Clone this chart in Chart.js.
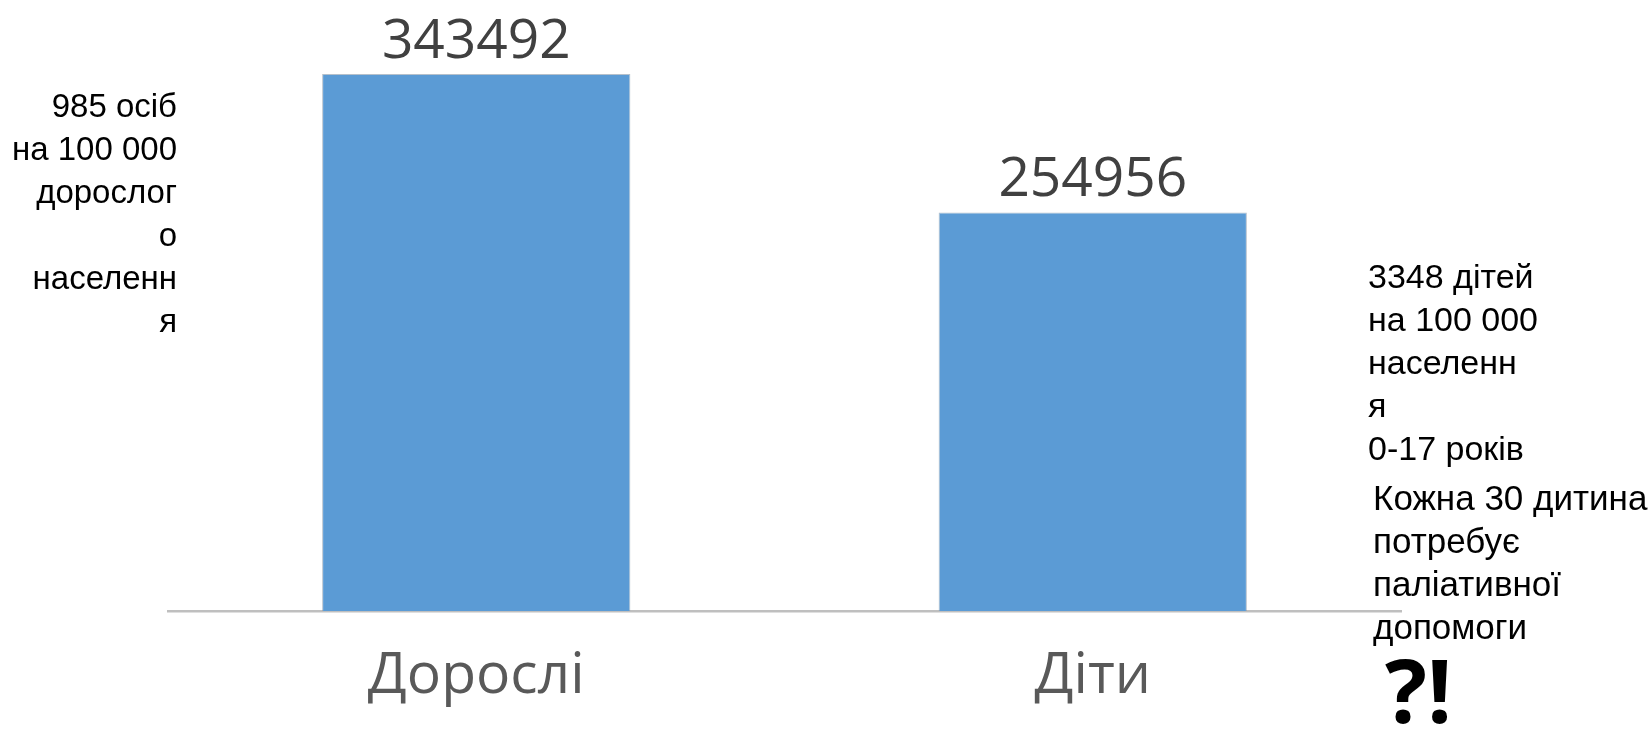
<!DOCTYPE html>
<html>
<head>
<meta charset="utf-8">
<script src="https://cdn.jsdelivr.net/npm/chart.js@4.4.1/dist/chart.umd.min.js"></script>
<style>
  html, body { margin: 0; padding: 0; background: #ffffff; }
  #wrap { position: relative; width: 1651px; height: 733px; overflow: hidden; background: #fff; }
  #c { position: absolute; left: 0; top: 0; }
  .note { position: absolute; font-family: "Liberation Sans", Arial, sans-serif; color: #000; white-space: nowrap; }
  #leftNote { left: 0; width: 177px; top: 84px; text-align: right; font-size: 33px; line-height: 43px; }
  #rightNote1 { left: 1368px; top: 255px; font-size: 34px; line-height: 43px; }
  #rightNote2 { left: 1373px; top: 476px; font-size: 35px; line-height: 43px; }
  #exclaim { position: absolute; left: 1385px; top: 646px; font-family: "Open Sans", sans-serif; font-weight: 700; font-size: 88px; line-height: 86px; color: #000; }
</style>
</head>
<body>
<div id="wrap">
  <canvas id="c" width="1651" height="733"></canvas>
  <div class="note" id="leftNote">985 осіб<br>на 100 000<br>дорослог<br>о<br>населенн<br>я</div>
  <div class="note" id="rightNote1">3348 дітей<br>на 100 000<br>населенн<br>я<br>0-17 років</div>
  <div class="note" id="rightNote2">Кожна 30 дитина<br>потребує<br>паліативної<br>допомоги</div>
  <div id="exclaim">?!</div>
</div>
<script>
const categories = ['Дорослі', 'Діти'];
const values = [343492, 254956];
const yMax = 380000;

const valueLabels = {
  id: 'valueLabels',
  afterDatasetsDraw(chart) {
    const ctx = chart.ctx;
    const meta = chart.getDatasetMeta(0);
    ctx.save();
    ctx.font = '55px "Open Sans", sans-serif';
    ctx.fillStyle = '#404040';
    ctx.textAlign = 'center';
    ctx.textBaseline = 'alphabetic';
    meta.data.forEach((bar, i) => {
      ctx.fillText(String(values[i]), bar.x, bar.y - 16);
    });
    ctx.restore();
  }
};

new Chart(document.getElementById('c'), {
  type: 'bar',
  data: {
    labels: categories,
    datasets: [{
      data: values,
      backgroundColor: '#5B9BD5',
      borderColor: 'rgba(120,140,160,0.55)',
      borderWidth: 1,
      borderSkipped: 'bottom',
      barPercentage: 1,
      categoryPercentage: 0.5
    }]
  },
  options: {
    responsive: false,
    animation: false,
    devicePixelRatio: 1,
    layout: { padding: { left: 168, right: 250, top: 17, bottom: 0 } },
    plugins: { legend: { display: false }, tooltip: { enabled: false } },
    scales: {
      y: { display: false, min: 0, max: yMax },
      x: {
        grid: { display: false, drawTicks: false },
        border: { display: true, color: '#BFBFBF', width: 2.5 },
        ticks: { font: { family: 'Open Sans', size: 57 }, color: '#595959', padding: 32 },
        afterFit(scale) { scale.height = 122; }
      }
    }
  },
  plugins: [valueLabels]
});
</script>
</body>
</html>
